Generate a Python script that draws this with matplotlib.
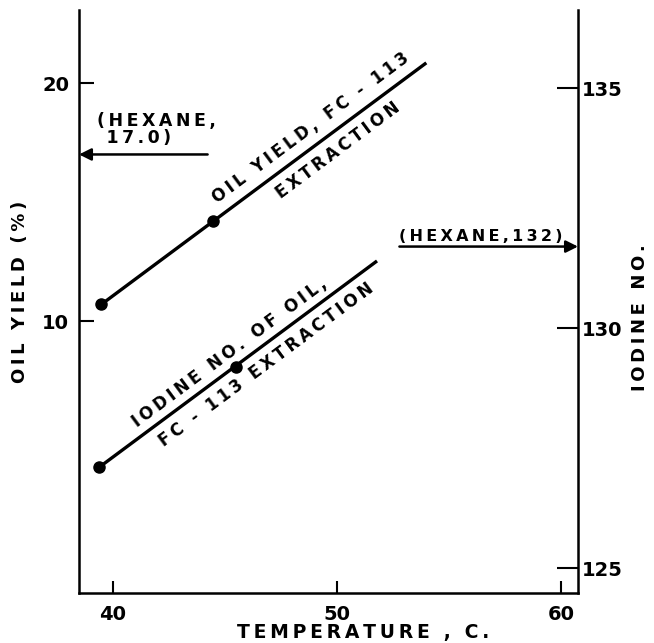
import numpy as np
import matplotlib
matplotlib.use("Agg")
from matplotlib import pyplot as plt

# measured points (FC-113 extraction)
temp_oil = [39.5, 44.5]
oil_yield = [10.7, 14.2]
temp_iodine = [39.4, 45.5]
iodine_no = [127.1, 129.2]

# straight lines drawn through the points
oil_line_x = [39.5, 54.0]
oil_line_y = [10.7, 20.85]
iodine_line_x = [39.4, 51.8]
iodine_line_y = [127.1, 131.4]

# hexane reference values
hexane_oil = 17.0
hexane_iodine = 131.7

x_ticks = [40, 50, 60]
oil_ticks = [10, 20]
iodine_ticks = [125, 130, 135]

plt.rcParams['font.family'] = ['DejaVu Sans']
plt.rcParams['font.weight'] = 'bold'
plt.rcParams['axes.labelweight'] = 'bold'


def spaced(s):
    # the old lettering is wide, so pad every letter with a small space
    return "\n".join("\u2009".join(line) for line in s.split("\n"))


fig = plt.figure(figsize=(6.54, 6.43), dpi=100)
ax = fig.add_axes([0.1208, 0.0778, 0.7630, 0.9066])
ax2 = ax.twinx()

ax.set_xlim(38.5, 60.77)
ax.set_ylim(-1.43, 23.07)
ax2.set_ylim(124.48, 136.63)

lw_spine = 1.8
for a in (ax, ax2):
    a.spines['top'].set_visible(False)
    for s in a.spines.values():
        s.set_linewidth(lw_spine)
ax2.spines['left'].set_visible(False)
ax2.spines['bottom'].set_visible(False)
ax.spines['right'].set_visible(False)

ax.set_xticks(x_ticks)
ax.set_yticks(oil_ticks)
ax2.set_yticks(iodine_ticks)
ax.tick_params(axis='x', direction='in', length=9, width=1.5, labelsize=14, pad=9)
ax.tick_params(axis='y', direction='in', length=11, width=1.5, labelsize=14, pad=7)
ax2.tick_params(axis='y', direction='in', length=15, width=1.5, labelsize=14, pad=3)

ax.set_xlabel(spaced("TEMPERATURE , C."), fontsize=13.5, va='center', ha='center')
ax.xaxis.set_label_coords(0.569, -0.068)
ax.set_ylabel(spaced("OIL YIELD (%)"), fontsize=13, va='center', ha='center')
ax.yaxis.set_label_coords(-0.118, 0.516)
ax2.set_ylabel(spaced("IODINE NO."), fontsize=13, rotation=90, va='center', ha='center')
ax2.yaxis.set_label_coords(1.124, 0.473)

# lines and points
ax.plot(oil_line_x, oil_line_y, color='black', lw=2.4, solid_capstyle='butt')
ax.plot(temp_oil, oil_yield, 'o', color='black', ms=8)
ax2.plot(iodine_line_x, iodine_line_y, color='black', lw=2.4, solid_capstyle='butt')
ax2.plot(temp_iodine, iodine_no, 'o', color='black', ms=8)


def line_angle(a, xs, ys):
    p = a.transData.transform(np.column_stack([xs, ys]))
    return np.degrees(np.arctan2(p[1, 1] - p[0, 1], p[1, 0] - p[0, 0]))


def line_label(a, xs, ys, x, text, dist):
    ang = line_angle(a, xs, ys)
    y = np.interp(x, xs, ys)
    r = np.radians(ang)
    off = (-np.sin(r) * dist, np.cos(r) * dist)
    a.annotate(spaced(text), (x, y), xytext=off, textcoords='offset points',
               rotation=ang, rotation_mode='anchor', ha='center', va='center',
               fontsize=12)


line_label(ax, oil_line_x, oil_line_y, 49.3, "OIL YIELD, FC - 113", 12)
line_label(ax, oil_line_x, oil_line_y, 49.6, "EXTRACTION", -12.5)
line_label(ax2, iodine_line_x, iodine_line_y, 45.6, "IODINE NO. OF OIL,", 10.5)
line_label(ax2, iodine_line_x, iodine_line_y, 46.4, "FC - 113 EXTRACTION", -13)

# hexane arrows
ax.annotate("", xy=(38.5, hexane_oil), xytext=(44.24, hexane_oil),
            arrowprops=dict(arrowstyle='-|>', lw=1.8, color='black',
                            mutation_scale=18, shrinkA=0, shrinkB=0))
ax.text(39.32, hexane_oil + 0.3, spaced("(HEXANE,\n 17.0)"), fontsize=12.5,
        ha='left', va='bottom', linespacing=0.95)

ax2.annotate("", xy=(60.77, hexane_iodine), xytext=(52.8, hexane_iodine),
             arrowprops=dict(arrowstyle='-|>', lw=1.8, color='black',
                             mutation_scale=18, shrinkA=0, shrinkB=0))
ax2.text(52.8, hexane_iodine + 0.06, spaced("(HEXANE,132)"), fontsize=11.5,
         ha='left', va='bottom')

fig.savefig("out.png", dpi=100)
